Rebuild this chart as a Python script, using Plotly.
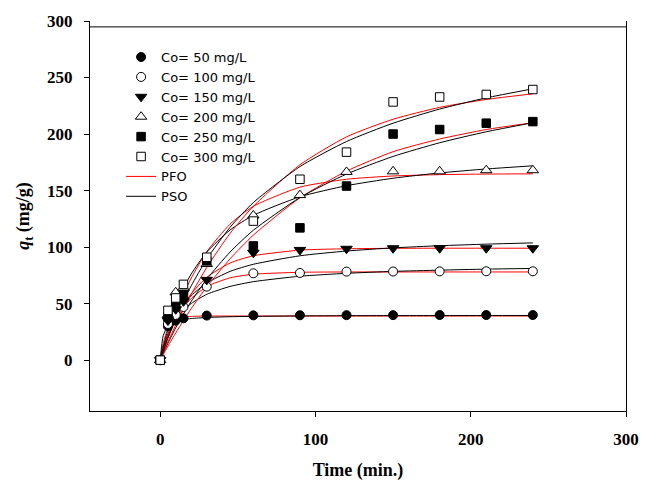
import plotly.graph_objects as go

# ---- measured data ----
time_min = [0, 5, 10, 15, 30, 60, 90, 120, 150, 180, 210, 240]
q_50 = [0, 30, 35, 37, 39.4, 39.6, 39.7, 39.8, 39.8, 39.9, 39.9, 39.9]
q_100 = [0, 32, 40, 47, 65, 76.8, 77.1, 78.3, 78.4, 78.5, 78.6, 78.6]
q_150 = [0, 35, 45, 52, 71, 95, 97.5, 98.5, 99, 99, 99, 99]
q_200 = [0, 40, 60, 64, 85, 128, 146, 166.5, 167, 167, 168, 168]
q_250 = [0, 38, 48, 58, 87.8, 101, 117, 154, 200, 204, 209.6, 211]
q_300 = [0, 44, 55, 67, 91, 123, 160, 184, 228.4, 232.8, 235, 239.4]

series_names = ["Co= 50 mg/L", "Co= 100 mg/L", "Co= 150 mg/L",
                "Co= 200 mg/L", "Co= 250 mg/L", "Co= 300 mg/L"]

# ---- fitted curves, values ----
t_fit = [0, 2, 5, 10, 15, 20, 30, 45, 60, 90, 120, 150, 180, 210, 240]
pfo_50 = [0, 15.3, 27.8, 35.8, 38.1, 38.7, 39.0, 39.0, 39.0, 39.0, 39.0, 39.0, 39.0, 39.0, 39.0]
pso_50 = [0, 21.9, 30.0, 34.2, 35.9, 36.8, 37.7, 38.4, 38.7, 39.1, 39.3, 39.4, 39.4, 39.5, 39.5]
pfo_100 = [0, 8.8, 20.2, 35.2, 46.6, 54.5, 65.1, 72.8, 76.0, 77.7, 78.0, 78.0, 78.0, 78.0, 78.0]
pso_100 = [0, 10.5, 22.3, 35.3, 44.0, 50.1, 58.2, 65.2, 69.4, 74.2, 76.8, 78.5, 79.6, 80.5, 81.1]
pfo_150 = [0, 8.5, 19.9, 35.9, 48.6, 58.7, 73.3, 85.9, 92.3, 97.3, 98.5, 98.9, 99.0, 99.0, 99.0]
pso_150 = [0, 10.5, 23.1, 38.3, 49.1, 57.1, 68.2, 78.5, 84.8, 92.3, 96.5, 99.3, 101.2, 102.6, 103.7]
pfo_200 = [0, 9.3, 22.2, 41.5, 58.3, 72.6, 95.9, 120.3, 136.1, 153.0, 160.0, 162.9, 164.1, 164.6, 164.8]
pso_200 = [0, 11.8, 27.0, 47.5, 63.5, 76.3, 95.6, 115.1, 128.1, 144.5, 154.3, 160.9, 165.6, 169.1, 171.9]
pfo_250 = [0, 5.0, 12.4, 24.0, 35.0, 45.6, 64.8, 89.6, 110.6, 143.6, 167.2, 184.4, 195.6, 204.0, 210.0]
pso_250 = [0, 6.2, 15.0, 28.6, 40.9, 52.0, 71.6, 95.6, 114.9, 143.8, 164.6, 180.2, 192.3, 202.0, 210.0]
pfo_300 = [0, 6.6, 16.2, 31.1, 45.0, 58.3, 82.0, 112.1, 136.1, 172.8, 197.5, 213.1, 223.6, 230.6, 235.6]
pso_300 = [0, 8.1, 19.5, 36.7, 52.1, 65.8, 89.4, 117.5, 139.4, 171.2, 193.4, 209.6, 222.1, 232.0, 240.0]

x_ticks = [0, 100, 200, 300]
y_ticks = [0, 50, 100, 150, 200, 250, 300]
x_range = [-45.2, 300]
y_range = [-45, 300]
frame_top = 294.8  # top frame line sits slightly below the 300 tick

data_series = [q_50, q_100, q_150, q_200, q_250, q_300]
symbols = ["circle", "circle", "triangle-down", "triangle-up", "square", "square"]
fills = ["black", "white", "black", "white", "black", "white"]
sizes = [9, 9, 10, 10, 8.5, 8.5]
pfo_curves = [pfo_50, pfo_100, pfo_150, pfo_200, pfo_250, pfo_300]
pso_curves = [pso_50, pso_100, pso_150, pso_200, pso_250, pso_300]

fig = go.Figure()

for i, (pfo, pso) in enumerate(zip(pfo_curves, pso_curves)):
    fig.add_trace(go.Scatter(
        x=t_fit, y=pfo, mode="lines", line=dict(color="rgb(255,0,0)", width=1, shape="spline", smoothing=0.6),
        name="PFO", showlegend=(i == 0), legendrank=1007, hoverinfo="skip"))
    fig.add_trace(go.Scatter(
        x=t_fit, y=pso, mode="lines", line=dict(color="black", width=1, shape="spline", smoothing=0.6),
        name="PSO", showlegend=(i == 0), legendrank=1008, hoverinfo="skip"))

for i, (name, ys) in enumerate(zip(series_names, data_series)):
    fig.add_trace(go.Scatter(
        x=time_min, y=ys, mode="markers", name=name, legendrank=1000 + i,
        marker=dict(symbol=symbols[i], size=sizes[i], color=fills[i],
                    line=dict(color="black", width=1))))

tick_font = dict(family="Liberation Serif", size=17, color="black", weight="bold")
title_font = dict(family="Liberation Serif", size=18, color="black", weight="bold")

fig.add_shape(type="line", xref="paper", yref="y", x0=0, x1=1, y0=frame_top, y1=frame_top,
              line=dict(color="black", width=1), layer="above")

fig.update_layout(
    width=651, height=488,
    margin=dict(l=90, r=14, t=16, b=75),
    paper_bgcolor="white", plot_bgcolor="white",
    showlegend=True,
    legend=dict(x=0.058, y=0.946, xanchor="left", yanchor="top",
                bgcolor="rgba(0,0,0,0)", borderwidth=0,
                font=dict(family="DejaVu Sans", size=13, color="black"),
                itemwidth=30, traceorder="normal"),
    xaxis=dict(range=x_range, tickvals=x_ticks, ticks="outside", ticklen=5,
               tickwidth=1, tickcolor="black", showgrid=False, zeroline=False,
               showline=True, linecolor="black", linewidth=1, mirror=False,
               tickfont=tick_font, ticklabelstandoff=8,
               title=dict(text="Time (min.)", font=title_font, standoff=14)),
    yaxis=dict(range=y_range, tickvals=y_ticks, ticks="outside", ticklen=5,
               tickwidth=1, tickcolor="black", showgrid=False, zeroline=False,
               showline=True, linecolor="black", linewidth=1, mirror=True,
               tickfont=tick_font, ticklabelstandoff=8,
               title=dict(text="<i>q</i><sub>t</sub> (mg/g)", font=title_font, standoff=12)),
)

fig.write_html("out.html")
